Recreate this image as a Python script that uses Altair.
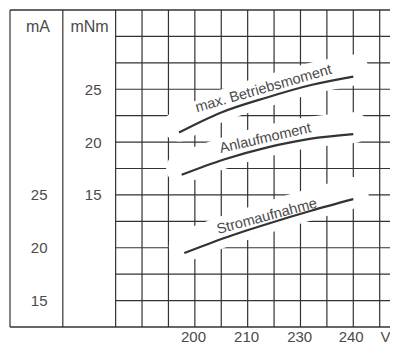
import altair as alt
import pandas as pd

# ---- data (x in grid steps along the voltage axis) ----
x_ticks = [2.93, 4.94, 6.95, 8.9, 10.2]
x_labels = ["200", "210", "230", "240", "V"]
grid_cols = [-4, -2, 0, 1, 2, 3, 4, 5, 6, 7, 8, 9, 10]
grid_rows = [5, 7.5, 10, 12.5, 15, 17.5, 20, 22.5, 25, 27.5, 30]
mnm_ticks = [15, 20, 25]
ma_ticks = [15, 20, 25]

betrieb_x = [2.4, 4.0, 5.7, 7.4, 9.0]
betrieb_y = [20.9, 22.8, 24.2, 25.4, 26.2]
anlauf_x = [2.5, 4.1, 5.75, 7.35, 9.0]
anlauf_y = [16.9, 18.35, 19.5, 20.3, 20.75]
strom_x = [2.6, 4.2, 5.8, 7.4, 9.0]
strom_y = [19.5, 21.0, 22.3, 23.5, 24.6]

label_names = ["max. Betriebsmoment", "Anlaufmoment", "Stromaufnahme"]
label_angles = [344, 347, 345]

X_DOMAIN = [-4, 10.39]
MNM_DOMAIN = [2.5, 32.5]
MA_DOMAIN = [12.5, 42.5]

FONT = "Liberation Sans"
TXT = "#4a4a4a"
LINE = "#333333"

xs = alt.Scale(domain=X_DOMAIN, nice=False, zero=False)
ys_n = alt.Scale(domain=MNM_DOMAIN, nice=False, zero=False)
ys_a = alt.Scale(domain=MA_DOMAIN, nice=False, zero=False)

expr = "''"
for v, l in reversed(list(zip(x_ticks, x_labels))):
    expr = f"datum.value == {v} ? '{l}' : ({expr})"

x_axis = alt.Axis(values=x_ticks, labelExpr=expr, grid=False, ticks=False,
                  domain=False, title=None, labelFontSize=15, labelFont=FONT,
                  labelColor=TXT, labelPadding=2, labelAngle=0, labelFlush=False)

mnm_axis = alt.Axis(values=mnm_ticks, grid=False, ticks=False, domain=False,
                    offset=-91, labelPadding=0, labelAlign="right",
                    labelFontSize=15, labelFont=FONT, labelColor=TXT,
                    title="mNm", titleAngle=0, titleX=-12, titleY=16,
                    titleAlign="center", titleBaseline="middle",
                    titleFontSize=16, titleFont=FONT, titleColor=TXT,
                    titleFontWeight="normal")

ma_axis = alt.Axis(values=ma_ticks, grid=False, ticks=False, domain=False,
                   orient="left", offset=-37, labelPadding=0, labelAlign="right",
                   labelFontSize=15, labelFont=FONT, labelColor=TXT,
                   title="mA", titleAngle=0, titleX=-9.5, titleY=16,
                   titleAlign="center", titleBaseline="middle",
                   titleFontSize=16, titleFont=FONT, titleColor=TXT,
                   titleFontWeight="normal")

def X(field):
    return alt.X(field, type="quantitative", scale=xs, axis=x_axis)

def YN(field):
    return alt.Y(field, type="quantitative", scale=ys_n, axis=mnm_axis)

def YA(field):
    return alt.Y(field, type="quantitative", scale=ys_a, axis=ma_axis)

cols_df = pd.DataFrame({"c": grid_cols})
rows_df = pd.DataFrame({"r": grid_rows})
border_df = pd.DataFrame({"r": MNM_DOMAIN, "x0": [X_DOMAIN[0]] * 2, "x1": [X_DOMAIN[1]] * 2})
rows_df["x0"] = 0
rows_df["x1"] = X_DOMAIN[1]

moment_df = pd.DataFrame({
    "x": betrieb_x + anlauf_x,
    "y": betrieb_y + anlauf_y,
    "k": ["b"] * len(betrieb_x) + ["a"] * len(anlauf_x),
})
strom_df = pd.DataFrame({"x": strom_x, "y": strom_y})

mlab = pd.DataFrame({
    "x": [betrieb_x[2], anlauf_x[2]],
    "y": [betrieb_y[2], anlauf_y[2]],
    "t": label_names[:2],
    "a": label_angles[:2],
})
slab = pd.DataFrame({"x": [strom_x[2]], "y": [strom_y[2]], "t": [label_names[2]], "a": [label_angles[2]]})

vgrid = alt.Chart(cols_df).mark_rule(color=LINE, strokeWidth=1.2).encode(x=X("c"))
hgrid = alt.Chart(rows_df).mark_rule(color=LINE, strokeWidth=1.2).encode(
    x=X("x0"), x2="x1", y=YN("r"))
borders = alt.Chart(border_df).mark_rule(color=LINE, strokeWidth=1.3).encode(
    x=X("x0"), x2="x1", y=YN("r"))

mband = alt.Chart(moment_df).mark_line(color="white", strokeWidth=31, yOffset=-6.5,
                                       strokeCap="round", interpolate="monotone").encode(
    x=X("x"), y=YN("y"), detail="k")
mline = alt.Chart(moment_df).mark_line(color=LINE, strokeWidth=2.2,
                                       interpolate="monotone").encode(
    x=X("x"), y=YN("y"), detail="k")
mtext = alt.Chart(mlab).mark_text(font=FONT, fontSize=14.5, color=TXT,
                                  baseline="alphabetic", dy=-5).encode(
    x=X("x"), y=YN("y"), text="t", angle=alt.Angle("a", scale=None))

# white band for the current curve, drawn in the mNm frame (mA = mNm + 10)
sband = alt.Chart(strom_df).transform_calculate(yn="datum.y - 10").mark_line(
    color="white", strokeWidth=31, yOffset=-6.5, strokeCap="round",
    interpolate="monotone").encode(x=X("x"), y=YN("yn"))
sline = alt.Chart(strom_df).mark_line(color=LINE, strokeWidth=2.2,
                                      interpolate="monotone").encode(
    x=X("x"), y=YA("y"))
stext = alt.Chart(slab).mark_text(font=FONT, fontSize=14.5, color=TXT,
                                  baseline="alphabetic", dy=-3).encode(
    x=X("x"), y=YA("y"), text="t", angle=alt.Angle("a", scale=None))

left = alt.layer(vgrid, hgrid, borders, mband, sband, mline, mtext)
right = alt.layer(sline, stext)

chart = alt.layer(left, right).resolve_scale(y="independent").properties(
    width=380, height=317,
    padding={"left": 2, "top": 2, "right": 0, "bottom": 19},
    autosize=alt.AutoSizeParams(type="none"),
    background="white",
).configure_view(stroke=None)

chart.save("out.html", embed_options={"renderer": "svg", "actions": False})
